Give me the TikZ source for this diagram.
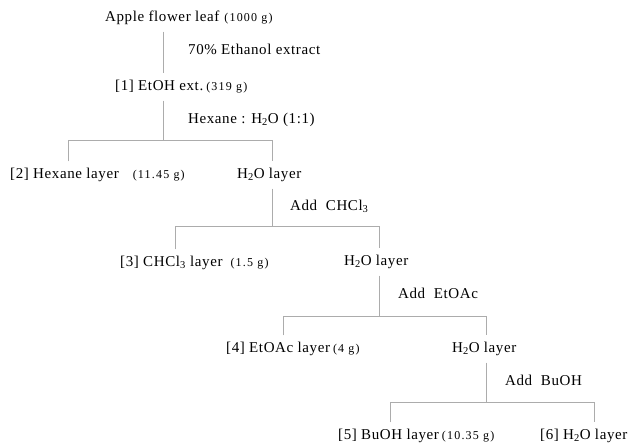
\documentclass[tikz,border=0pt]{standalone}
\usepackage{fontspec}
\setmainfont{Liberation Serif}[LetterSpace=4]
\newfontfamily\amtfont{Liberation Serif}[LetterSpace=10]
\newcommand{\amt}[1]{{\amtfont\fontsize{12}{14}\selectfont(#1)}}
\newcommand{\wat}{H\textsubscript{2}O}
\begin{document}
\begin{tikzpicture}[x=1pt,y=-1pt,
    link/.style={draw=gray!65, line width=0.8pt},
    txt/.style={anchor=west, inner xsep=0pt, inner ysep=7pt, text height=10pt, text depth=3pt,
      font=\fontsize{15}{17}\selectfont}]
    \useasboundingbox (0,0) rectangle (638,444);

    % fractions and layers
    \node[txt] (leaf) at (105,18) {Apple flower leaf\hspace{5pt}\amt{1000 g}};
    \node[txt] (ext)  at (115,87) {[1] EtOH ext.\hspace{3pt}\amt{319 g}};
    \node[txt] (hex)  at (10,175) {[2] Hexane layer\hspace{14pt}\amt{11.45 g}};
    \node[txt] (w1)   at (237,175) {\wat\ layer};
    \node[txt] (chl)  at (120,263) {[3] CHCl\textsubscript{3} layer\hspace{8pt}\amt{1.5 g}};
    \node[txt] (w2)   at (344,262) {\wat\ layer};
    \node[txt] (eto)  at (226,349) {[4] EtOAc layer\hspace{3pt}\amt{4 g}};
    \node[txt] (w3)   at (452,349) {\wat\ layer};
    \node[txt] (buo)  at (338,436) {[5] BuOH layer\hspace{3pt}\amt{10.35 g}};
    \node[txt] (w4)   at (540,436) {[6] \wat\ layer};

    % solvents
    \node[txt] (s0) at (188,51)  {70\% Ethanol extract};
    \node[txt] (s1) at (188,120) {Hexane : \wat\ (1:1)};
    \node[txt] (s2) at (290,207) {Add\ \ CHCl\textsubscript{3}};
    \node[txt] (s3) at (398,295) {Add\ \ EtOAc};
    \node[txt] (s4) at (505,382) {Add\ \ BuOH};

    % branch points
    \coordinate (j0) at (163,0);
    \coordinate (j1) at (163,140); \coordinate (l1) at (68,140);  \coordinate (r1) at (272,140);
    \coordinate (j2) at (272,226); \coordinate (l2) at (175,226); \coordinate (r2) at (379,226);
    \coordinate (j3) at (379,316); \coordinate (l3) at (283,316); \coordinate (r3) at (486,316);
    \coordinate (j4) at (486,402); \coordinate (l4) at (390,402); \coordinate (r4) at (594,402);

    % connectors
    \draw[link] (leaf.south -| j0) -- (ext.north -| j0);
    \draw[link] (ext.south -| j1) -- (j1);
    \draw[link] (hex.north -| l1) -- (l1) -- (r1) -- (w1.north -| r1);
    \draw[link] (w1.south -| j2) -- (j2);
    \draw[link] (chl.north -| l2) -- (l2) -- (r2) -- (w2.north -| r2);
    \draw[link] (w2.south -| j3) -- (j3);
    \draw[link] (eto.north -| l3) -- (l3) -- (r3) -- (w3.north -| r3);
    \draw[link] (w3.south -| j4) -- (j4);
    \draw[link] (buo.north -| l4) -- (l4) -- (r4) -- (w4.north -| r4);
\end{tikzpicture}
\end{document}
